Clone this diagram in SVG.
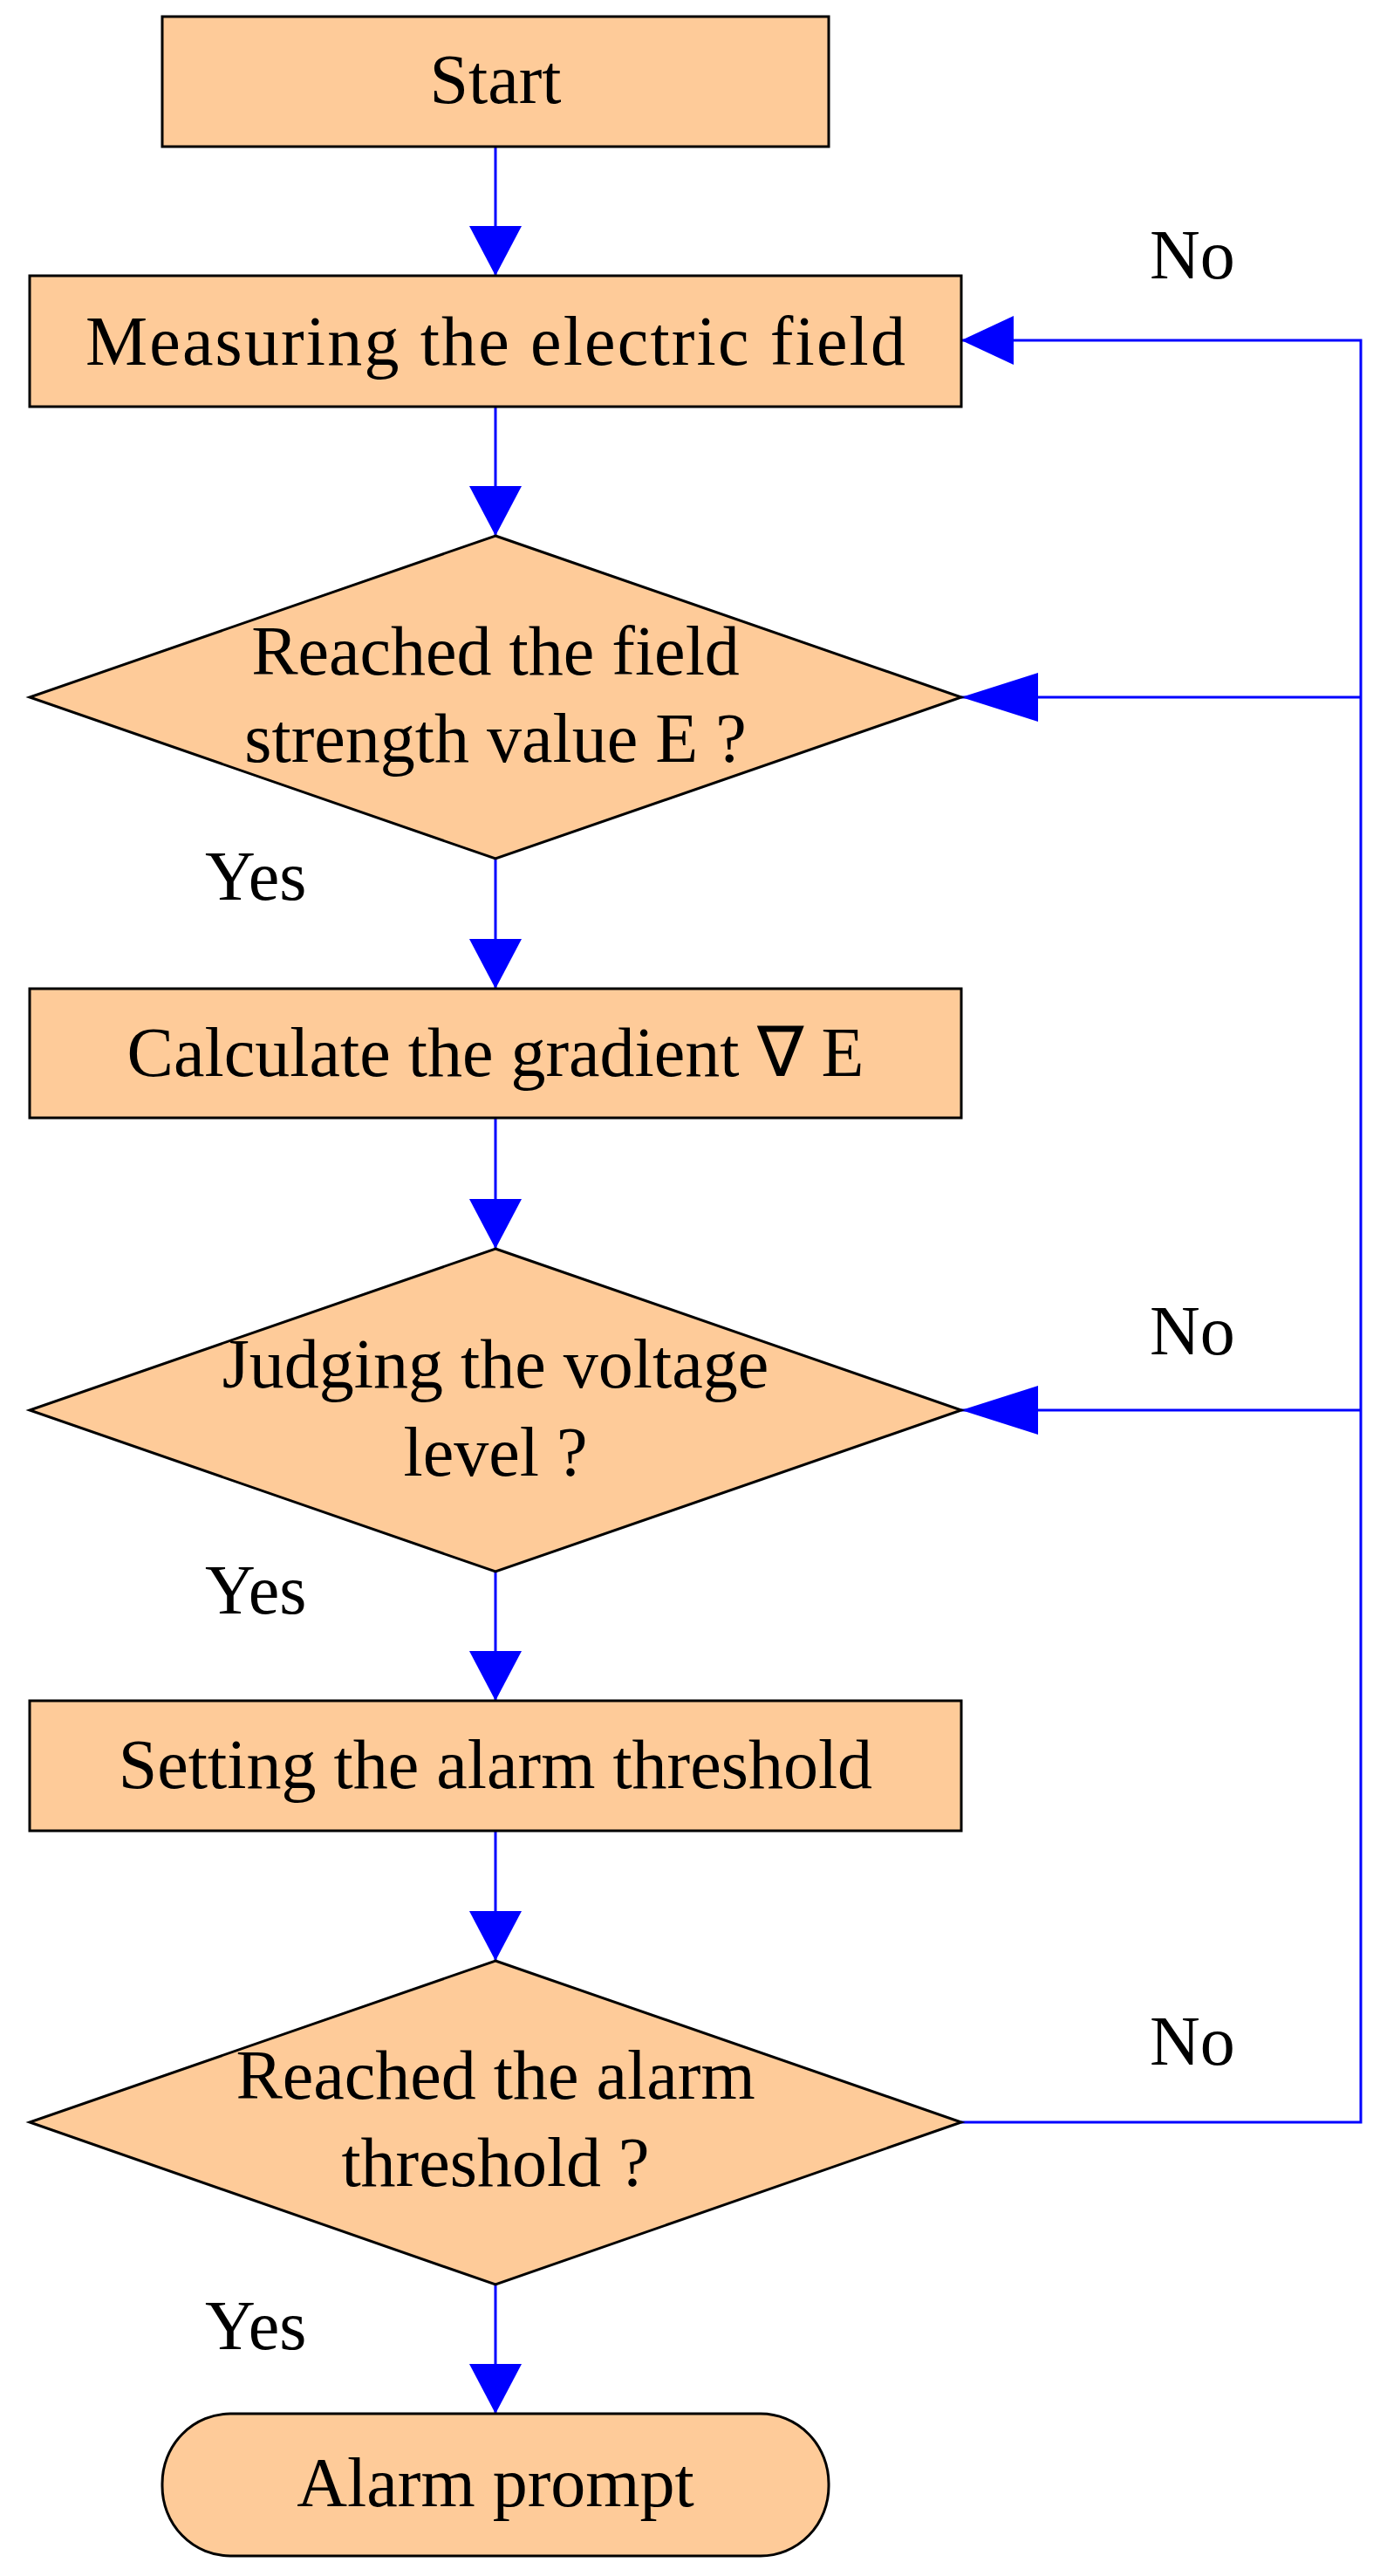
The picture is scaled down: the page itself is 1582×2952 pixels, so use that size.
<svg xmlns="http://www.w3.org/2000/svg" width="1582" height="2952" viewBox="0 0 1582 2952">
<style>
.n{fill:#FECB99;stroke:#000;stroke-width:3}
.t{font-family:"Liberation Serif",serif;font-size:80px;fill:#000;text-anchor:middle}
.l{font-family:"Liberation Serif",serif;font-size:80px;fill:#000}
.c{stroke:#0000FF;stroke-width:3;fill:none}
.a{fill:#0000FF}
</style>
<rect width="1582" height="2952" fill="#fff"/>
<g id="connectors">
<path class="c" d="M568 168V316M568 466V614M568 984V1133M568 1281V1431M568 1801V1949M568 2098V2247M568 2618V2766"/>
<path class="c" d="M1102 2432H1560V390H1102M1560 799H1102M1560 1616H1102"/>
<polygon class="a" points="538,259 598,259 568,316"/>
<polygon class="a" points="538,557 598,557 568,614"/>
<polygon class="a" points="538,1076 598,1076 568,1133"/>
<polygon class="a" points="538,1374 598,1374 568,1431"/>
<polygon class="a" points="538,1892 598,1892 568,1949"/>
<polygon class="a" points="538,2190 598,2190 568,2247"/>
<polygon class="a" points="538,2709 598,2709 568,2766"/>
<polygon class="a" points="1102,390 1162,362 1162,418"/>
<polygon class="a" points="1102,799 1190,771 1190,827"/>
<polygon class="a" points="1102,1616 1190,1588 1190,1644"/>
<text class="l" x="1318" y="319">No</text>
<text class="l" x="1318" y="1552">No</text>
<text class="l" x="1318" y="2366">No</text>
<text class="l" x="235" y="1031">Yes</text>
<text class="l" x="235" y="1849">Yes</text>
<text class="l" x="235" y="2692">Yes</text>
</g>
<g id="start"><rect class="n" x="186" y="19" width="764" height="149"/><text class="t" x="568" y="118">Start</text></g>
<g id="measure"><rect class="n" x="34" y="316" width="1068" height="150"/><text class="t" x="568" y="418" textLength="940">Measuring the electric field</text></g>
<g id="d1"><polygon class="n" points="568,614 1102,799 568,984 34,799"/><text class="t" x="568" y="773">Reached the field</text><text class="t" x="568" y="873">strength value E  ?</text></g>
<g id="calc"><rect class="n" x="34" y="1133" width="1068" height="148"/><text class="t" x="568" y="1233">Calculate the gradient ∇  E</text></g>
<g id="d2"><polygon class="n" points="568,1431 1102,1616 568,1801 34,1616"/><text class="t" x="568" y="1590">Judging the voltage</text><text class="t" x="568" y="1691">level ?</text></g>
<g id="set"><rect class="n" x="34" y="1949" width="1068" height="149"/><text class="t" x="568" y="2049">Setting the alarm threshold</text></g>
<g id="d3"><polygon class="n" points="568,2247 1102,2432 568,2618 34,2432"/><text class="t" x="568" y="2405">Reached the alarm</text><text class="t" x="568" y="2505">threshold  ?</text></g>
<g id="alarm"><rect class="n" x="186" y="2766" width="764" height="163" rx="78" ry="80"/><text class="t" x="568" y="2872">Alarm prompt</text></g>
</svg>
